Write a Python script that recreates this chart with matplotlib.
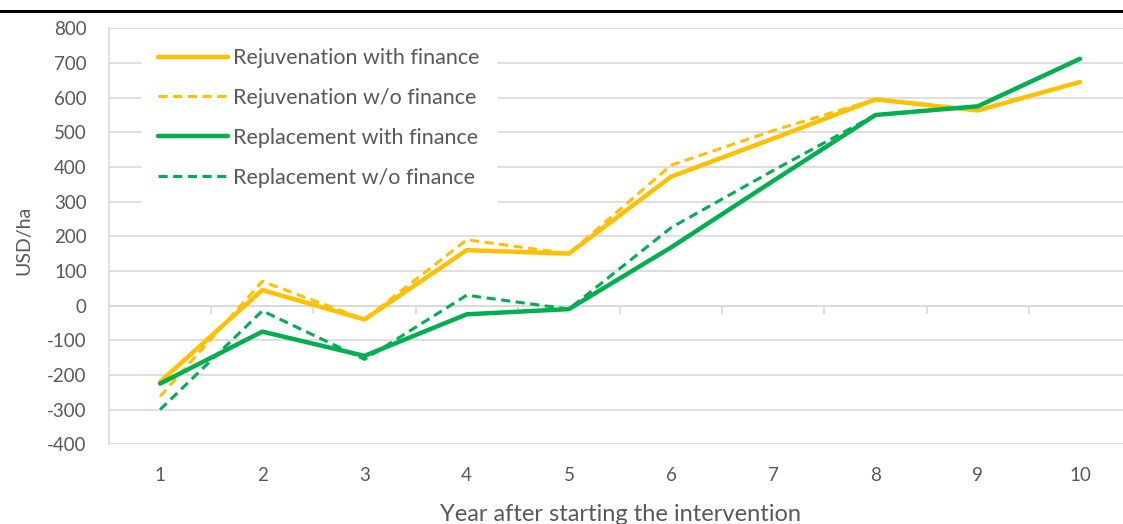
import matplotlib.pyplot as plt
from matplotlib.lines import Line2D

plt.rcParams['font.family'] = ['Lato', 'DejaVu Sans']
plt.rcParams['axes.unicode_minus'] = False

# Data (USD/ha per year)
years = [1, 2, 3, 4, 5, 6, 7, 8, 9, 10]
rejuv_fin = [-220, 45, -40, 160, 150, 372, 482, 595, 563, 645]
rejuv_nofin = [-262, 70, -40, 190, 150, 405, 505, 595, 563, 645]
repl_fin = [-225, -75, -145, -25, -10, 168, 360, 550, 575, 712]
repl_nofin = [-300, -15, -155, 30, -10, 225, 390, 550, 575, 712]

orange = '#FFC000'
green = '#00B050'
grey_txt = '#595959'
grid_col = '#D9D9D9'

fig = plt.figure(figsize=(11.23, 5.24), dpi=100)
# plot area runs past the right edge (the reference is cropped there)
ax = fig.add_axes([109 / 1123, 79.7 / 524, 1022 / 1123, 416 / 524])

ax.plot(years, rejuv_fin, color=orange, lw=3.2, label='Rejuvenation with finance',
        solid_joinstyle='round', solid_capstyle='round', zorder=3)
ax.plot(years, rejuv_nofin, color=orange, lw=2.2, ls=(0, (3, 1.8)),
        label='Rejuvenation w/o finance', zorder=3)
ax.plot(years, repl_fin, color=green, lw=3.2, label='Replacement with finance',
        solid_joinstyle='round', solid_capstyle='round', zorder=3)
ax.plot(years, repl_nofin, color=green, lw=2.2, ls=(0, (3, 1.8)),
        label='Replacement w/o finance', zorder=3)

ax.set_xlim(0.5, 10.5)
ax.set_ylim(-400, 800)
ax.set_yticks(range(-400, 801, 100))
ax.set_xticks(years)

ax.grid(axis='y', color=grid_col, lw=1.2)
ax.set_axisbelow(True)
for s in ['top', 'right', 'bottom']:
    ax.spines[s].set_visible(False)
ax.spines['left'].set_color(grid_col)
ax.spines['left'].set_linewidth(1.2)

ax.tick_params(axis='y', length=0, pad=16, labelsize=13.5, labelcolor=grey_txt)
ax.tick_params(axis='x', length=0, pad=16, labelsize=13.5, labelcolor=grey_txt)

# category axis crossing at zero, with tick marks between categories
sec = ax.secondary_xaxis(0, transform=ax.transData)
sec.set_xticks([y + 0.5 for y in years[:-1]])
sec.tick_params(direction='out', length=6, width=1.2, color=grid_col, labelbottom=False)
sec.spines['bottom'].set_color(grid_col)
sec.spines['bottom'].set_linewidth(1.2)

ax.set_ylabel('USD/ha', fontsize=14, color=grey_txt)
ax.yaxis.set_label_coords(-0.083, 0.49)
ax.yaxis.label.set_va('center')
ax.set_xlabel('Year after starting the intervention', fontsize=17, color=grey_txt)
ax.xaxis.set_label_coords(0.5, -0.168)
ax.xaxis.label.set_va('center')

leg = ax.legend(loc='upper left', bbox_to_anchor=(0.022, 1.017), fontsize=15.5,
                frameon=True, fancybox=False, framealpha=1, edgecolor='white',
                handlelength=3.25, handletextpad=0.23, labelspacing=0.92, borderpad=0.75)
for t in leg.get_texts():
    t.set_color(grey_txt)

# black rule across the top of the figure
fig.add_artist(Line2D([0, 1], [1 - 10.5 / 524] * 2, color='black', lw=2.2,
                      transform=fig.transFigure))

plt.savefig('out.png', dpi=100)
